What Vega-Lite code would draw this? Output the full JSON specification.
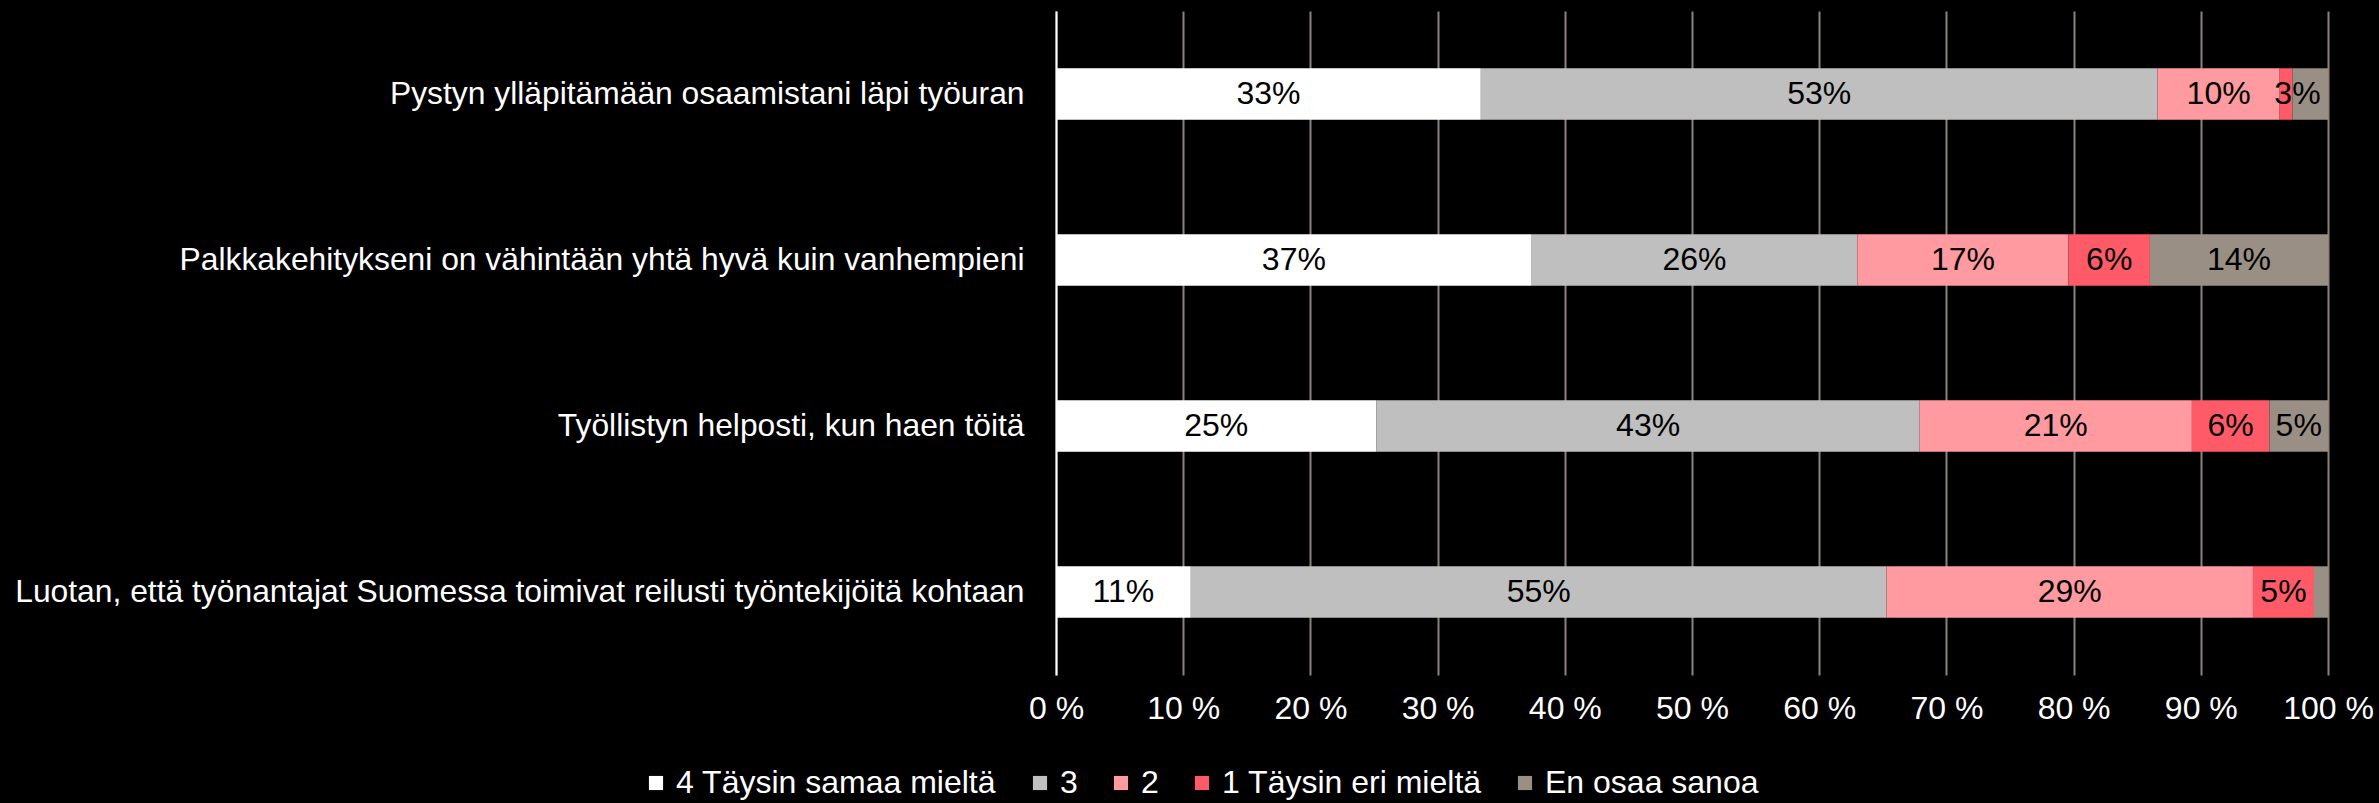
{
  "$schema": "https://vega.github.io/schema/vega-lite/v6.json",
  "autosize": "none",
  "width": 1272,
  "height": 664,
  "padding": {"left": 1056, "top": 11, "right": 51, "bottom": 128},
  "background": "#000000",
  "config": {
    "view": {"stroke": null},
    "font": "Liberation Sans"
  },
  "data": {
    "values": [
      {"q": "Pystyn ylläpitämään osaamistani läpi työuran", "c": "4 Täysin samaa mieltä", "r": 1, "v": 0.334},
      {"q": "Pystyn ylläpitämään osaamistani läpi työuran", "c": "3", "r": 2, "v": 0.532},
      {"q": "Pystyn ylläpitämään osaamistani läpi työuran", "c": "2", "r": 3, "v": 0.096},
      {"q": "Pystyn ylläpitämään osaamistani läpi työuran", "c": "1 Täysin eri mieltä", "r": 4, "v": 0.010},
      {"q": "Pystyn ylläpitämään osaamistani läpi työuran", "c": "En osaa sanoa", "r": 5, "v": 0.028},
      {"q": "Palkkakehitykseni on vähintään yhtä hyvä kuin vanhempieni", "c": "4 Täysin samaa mieltä", "r": 1, "v": 0.374},
      {"q": "Palkkakehitykseni on vähintään yhtä hyvä kuin vanhempieni", "c": "3", "r": 2, "v": 0.256},
      {"q": "Palkkakehitykseni on vähintään yhtä hyvä kuin vanhempieni", "c": "2", "r": 3, "v": 0.166},
      {"q": "Palkkakehitykseni on vähintään yhtä hyvä kuin vanhempieni", "c": "1 Täysin eri mieltä", "r": 4, "v": 0.064},
      {"q": "Palkkakehitykseni on vähintään yhtä hyvä kuin vanhempieni", "c": "En osaa sanoa", "r": 5, "v": 0.140},
      {"q": "Työllistyn helposti, kun haen töitä", "c": "4 Täysin samaa mieltä", "r": 1, "v": 0.252},
      {"q": "Työllistyn helposti, kun haen töitä", "c": "3", "r": 2, "v": 0.427},
      {"q": "Työllistyn helposti, kun haen töitä", "c": "2", "r": 3, "v": 0.214},
      {"q": "Työllistyn helposti, kun haen töitä", "c": "1 Täysin eri mieltä", "r": 4, "v": 0.061},
      {"q": "Työllistyn helposti, kun haen töitä", "c": "En osaa sanoa", "r": 5, "v": 0.046},
      {"q": "Luotan, että työnantajat Suomessa toimivat reilusti työntekijöitä kohtaan", "c": "4 Täysin samaa mieltä", "r": 1, "v": 0.106},
      {"q": "Luotan, että työnantajat Suomessa toimivat reilusti työntekijöitä kohtaan", "c": "3", "r": 2, "v": 0.547},
      {"q": "Luotan, että työnantajat Suomessa toimivat reilusti työntekijöitä kohtaan", "c": "2", "r": 3, "v": 0.288},
      {"q": "Luotan, että työnantajat Suomessa toimivat reilusti työntekijöitä kohtaan", "c": "1 Täysin eri mieltä", "r": 4, "v": 0.048},
      {"q": "Luotan, että työnantajat Suomessa toimivat reilusti työntekijöitä kohtaan", "c": "En osaa sanoa", "r": 5, "v": 0.011}
    ]
  },
  "encoding": {
    "y": {
      "field": "q", "type": "nominal", "sort": null, "title": null,
      "scale": {"paddingInner": 0.69, "paddingOuter": 0.345},
      "axis": {
        "domain": true, "domainColor": "#ffffff", "domainWidth": 2,
        "ticks": false, "labelPadding": 32, "labelLimit": 1100,
        "labelColor": "#ffffff", "labelFontSize": 31.8, "labelFont": "Liberation Sans",
        "grid": false
      }
    }
  },
  "layer": [
    {
      "mark": {"type": "bar"},
      "encoding": {
        "x": {
          "field": "v", "type": "quantitative", "stack": "zero", "title": null,
          "scale": {"domain": [0, 1], "nice": false},
          "axis": {
            "values": [0, 0.1, 0.2, 0.3, 0.4, 0.5, 0.6, 0.7, 0.8, 0.9, 1],
            "format": ".0%", "labelExpr": "replace(datum.label, '%', ' %')",
            "domain": false, "ticks": false, "grid": true,
            "gridColor": "#8c8278", "gridWidth": 2, "gridOpacity": 1,
            "labelColor": "#ffffff", "labelFontSize": 32, "labelFont": "Liberation Sans",
            "labelPadding": 18, "labelFlush": false, "zindex": 0
          }
        },
        "color": {
          "field": "c", "type": "nominal", "title": null,
          "scale": {
            "domain": ["4 Täysin samaa mieltä", "3", "2", "1 Täysin eri mieltä", "En osaa sanoa"],
            "range": ["#ffffff", "#bfbfbf", "#ff9aa0", "#ff5a68", "#9a8f84"]
          },
          "legend": {
            "orient": "none", "direction": "horizontal",
            "legendX": -416, "legendY": 756,
            "symbolType": "square", "symbolSize": 200, "symbolStrokeWidth": 0,
            "labelColor": "#ffffff", "labelFontSize": 32, "labelFont": "Liberation Sans",
            "columnPadding": 27, "labelOffset": 4, "labelLimit": 600
          }
        },
        "order": {"field": "r", "type": "quantitative"}
      }
    },
    {
      "transform": [{"filter": "datum.v >= 0.02"}],
      "mark": {"type": "text", "fontSize": 32, "color": "#000000", "font": "Liberation Sans", "baseline": "middle", "align": "center"},
      "encoding": {
        "x": {"field": "v", "type": "quantitative", "stack": "zero", "bandPosition": 0.5},
        "detail": {"field": "c"},
        "order": {"field": "r", "type": "quantitative"},
        "text": {"field": "v", "type": "quantitative", "format": ".0%"}
      }
    }
  ]
}
